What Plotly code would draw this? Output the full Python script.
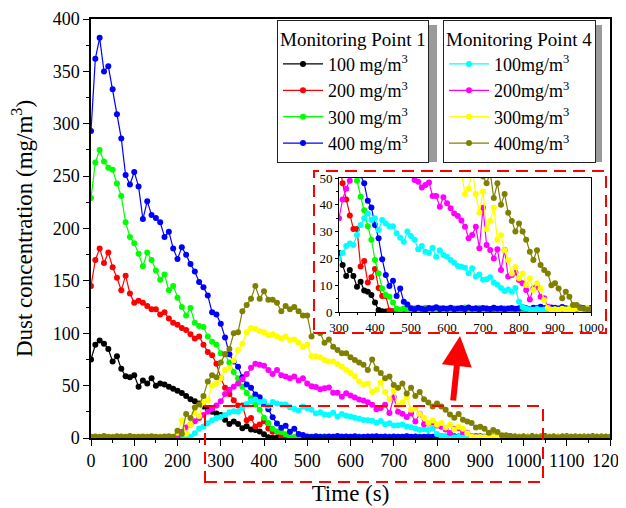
import plotly.graph_objects as go

time_s = list(range(0, 1210, 10))

# Monitoring Point 1
p1_100 = [75, 89, 93, 90, 85, 73, 78, 66, 59, 58,
          60, 49, 55, 52, 57, 50, 52, 51, 49, 47,
          45, 43, 40, 37, 35, 33, 30, 27, 25, 23.5,
          22, 17.5, 13.4, 15.7, 13.4, 9.4, 11.3, 8, 7.6, 6.3,
          3.5, 0.7, 0.3, 0.2, 0.4, 0.2, 0.3, 0.2, 0.3, 0.4,
          0.2, 0.3, 0.3, 0.2, 0.4, 0.3, 0.2, 0.3, 0.2, 0.3,
          0.3, 0.2, 0.4, 0.3, 0.2, 0.3, 0.3, 0.2, 0.3, 0.2,
          0.2, 0.3, 0.2, 0.4, 0.3, 0.2, 0.3, 0.2, 0.3, 0.3,
          0.3, 0.2, 0.3, 0.2, 0.3, 0.4, 0.2, 0.3, 0.2, 0.3,
          0.2, 0.3, 0.3, 0.2, 0.3, 0.2, 0.4, 0.3, 0.2, 0.3,
          0.3, 0.2, 0.3, 0.3, 0.2, 0.3, 0.2, 0.3, 0.4, 0.2,
          0.2, 0.3, 0.2, 0.3, 0.3, 0.2, 0.3, 0.2, 0.3, 0.3,
          0.2]
p1_200 = [145, 170, 181, 167, 177, 163, 153, 141, 155, 138,
          129, 131, 129, 126, 123, 123, 118, 120, 114, 110,
          108, 105, 103, 99, 95, 97, 89, 82, 79, 71,
          57, 48, 42, 36, 31, 31, 17, 19, 11, 13,
          16, 9, 6, 6, 0.6, 0.3, 0.4, 0.3, 0.5, 0.3,
          0.4, 0.3, 0.5, 0.4, 0.3, 0.4, 0.5, 0.3, 0.4, 0.3,
          0.5, 0.4, 0.3, 0.4, 0.3, 0.5, 0.4, 0.3, 0.4, 0.5,
          0.3, 0.4, 0.5, 0.3, 0.4, 0.3, 0.4, 0.5, 0.3, 0.4,
          0.4, 0.3, 0.4, 0.5, 0.3, 0.4, 0.3, 0.4, 0.5, 0.3,
          0.3, 0.4, 0.3, 0.5, 0.4, 0.3, 0.4, 0.3, 0.4, 0.5,
          0.4, 0.3, 0.5, 0.4, 0.3, 0.4, 0.3, 0.5, 0.4, 0.3,
          0.3, 0.4, 0.3, 0.4, 0.5, 0.3, 0.4, 0.3, 0.4, 0.3,
          0.4]
p1_300 = [229, 263, 275, 264, 258, 256, 243, 231, 206, 192,
          186, 176, 164, 177, 170, 160, 151, 156, 141, 145,
          134, 125, 117, 124, 110, 107, 106, 97, 92, 89,
          81, 80, 72, 63, 57, 49, 43, 38, 32, 27,
          19.4, 14.4, 8.8, 6.3, 5.7, 3.5, 1.2, 0.8, 1.3, 0.9,
          1.1, 1.4, 0.8, 1.2, 1.6, 1.0, 1.3, 0.9, 1.5, 1.1,
          1.2, 0.9, 1.4, 1.0, 1.3, 1.7, 1.1, 0.9, 1.2, 1.5,
          1.0, 1.3, 1.1, 1.6, 0.9, 1.2, 1.4, 1.0, 1.3, 1.1,
          1.2, 1.0, 1.5, 1.1, 0.9, 1.3, 1.2, 1.0, 1.4, 1.1,
          0.9, 1.2, 1.0, 1.3, 1.1, 0.8, 1.2, 1.0, 1.3, 0.9,
          1.1, 1.3, 0.9, 1.2, 1.0, 1.4, 1.1, 0.9, 1.2, 1.0,
          1.3, 1.0, 1.2, 0.9, 1.1, 1.3, 1.0, 1.2, 0.9, 1.1,
          1.0]
p1_400 = [293, 362, 382, 350, 355, 333, 309, 286, 251, 242,
          254, 240, 209, 226, 213, 210, 206, 192, 197, 181,
          171, 182, 175, 166, 159, 149, 144, 136, 120, 118,
          109, 96, 80, 73, 68, 58, 51, 48, 41.5, 39,
          32.5, 27.5, 19.7, 13.8, 9.7, 11.7, 6, 8.8, 3.8, 2.8,
          1.4, 1.0, 1.6, 1.2, 0.9, 1.5, 1.3, 1.8, 1.1, 1.4,
          1.2, 1.6, 1.0, 1.3, 1.5, 1.1, 1.7, 1.2, 1.4, 1.0,
          1.5, 1.3, 1.1, 1.6, 1.2, 1.4, 1.0, 1.3, 1.5, 1.2,
          1.4, 1.8, 1.3, 1.1, 1.6, 1.4, 2.0, 1.5, 1.3, 1.7,
          1.6, 1.3, 1.9, 1.4, 1.2, 1.5, 1.3, 1.7, 1.4, 1.2,
          1.5, 1.3, 1.6, 1.2, 1.4, 1.7, 1.3, 1.5, 1.2, 1.4,
          1.6, 1.3, 1.5, 1.2, 1.4, 1.3, 1.6, 1.2, 1.4, 1.3,
          1.2]

# Monitoring Point 4
p4_100 = [0.4, 0.6, 0.5, 0.7, 0.4, 0.5, 0.6, 0.4, 0.5, 0.6,
          0.5, 0.4, 0.6, 0.5, 0.7, 0.5, 0.4, 0.6, 0.5, 0.4,
          0.5, 0.6, 1.0, 1.3, 4.5, 9, 11, 14, 17, 19,
          20, 22, 24.6, 25.6, 25, 28.7, 32.5, 35, 36.8, 34.3,
          35, 30.6, 34.3, 33, 32, 32, 29.4, 27.7, 26.2, 30,
          28.4, 27, 23.4, 24.6, 22.5, 22, 24, 20.6, 23, 21.3,
          20.6, 19.4, 18.4, 17.2, 16.9, 16.5, 14.5, 16.3, 13.2, 14,
          12, 12.2, 13, 11, 10.2, 9, 7.8, 8.4, 7.6, 9,
          3.8, 1.9, 1.2, 1.0, 0.8, 1.1, 0.7, 0.9, 1.0, 0.8,
          0.9, 0.7, 1.0, 0.8, 1.1, 0.9, 0.7, 1.0, 0.8, 0.9,
          0.8, 1.0, 0.7, 0.9, 1.1, 0.8, 0.9, 0.7, 1.0, 0.8,
          0.9, 0.8, 1.0, 0.7, 0.9, 0.8, 1.0, 0.9, 0.7, 0.8,
          0.9]
p4_200 = [0.5, 0.4, 0.6, 0.5, 0.4, 0.6, 0.5, 0.4, 0.5, 0.6,
          0.4, 0.5, 0.6, 0.4, 0.5, 0.5, 0.6, 0.4, 0.5, 0.4,
          0.8, 6, 10, 13, 16, 19, 22, 25, 28, 31,
          35, 42, 46, 49, 52, 56, 61, 67, 71, 70,
          69, 65, 61, 65, 60, 58.6, 57, 58.6, 55, 57,
          52, 49.3, 48.6, 46.5, 47.4, 48.3, 43.3, 43.3, 39.3, 42.8,
          40.6, 38.7, 36.8, 35.8, 34.1, 31.8, 27.5, 28.7, 31.8, 23.8,
          38.9, 25, 23.1, 20, 23.4, 15.7, 23.1, 13.2, 13.8, 14.7,
          11.9, 10.7, 8.2, 4.7, 8.8, 9.4, 5.7, 5.1, 2, 0.8,
          0.6, 0.5, 0.7, 0.5, 0.6, 0.4, 0.6, 0.5, 0.7, 0.5,
          0.6, 0.5, 0.4, 0.6, 0.5, 0.7, 0.5, 0.6, 0.4, 0.5,
          0.6, 0.5, 0.7, 0.5, 0.4, 0.6, 0.5, 0.6, 0.5, 0.4,
          0.5]
p4_300 = [1.0, 1.3, 0.9, 1.2, 1.0, 1.4, 1.1, 0.9, 1.2, 1.5,
          1.0, 1.2, 0.9, 1.3, 1.1, 1.0, 1.4, 1.2, 0.9, 1.1,
          5, 17, 4, 13, 24, 21, 34, 36, 50, 52,
          57, 65, 67, 74, 84, 90, 101, 105, 104, 102,
          101, 98, 99, 97, 95, 97, 93.6, 94, 91, 87,
          89, 78, 78, 77, 74.5, 73, 73, 70.7, 68, 65,
          62, 59, 54, 51, 52, 44, 46, 53, 44, 37,
          45, 31, 34, 39, 27, 28.6, 23, 19.4, 14.4, 16.8,
          12.6, 14.4, 10.1, 12.6, 8.2, 10.7, 8.8, 4.5, 1.5, 0.8,
          1.0, 0.8, 1.2, 0.9, 1.1, 0.8, 1.3, 1.0, 0.9, 1.2,
          1.0, 1.1, 0.8, 1.2, 1.0, 0.9, 1.3, 1.0, 1.1, 0.9,
          1.2, 1.0, 0.8, 1.1, 1.2, 0.9, 1.0, 1.3, 1.0, 1.1,
          1.0]
p4_400 = [1.2, 1.5, 1.1, 1.8, 1.3, 1.0, 1.6, 1.4, 1.2, 1.9,
          1.3, 1.1, 1.5, 1.2, 1.7, 1.3, 1.0, 1.4, 1.6, 1.2,
          7, 4, 23, 19, 29, 32, 40, 54, 60, 58,
          72, 80, 85, 100, 101, 121, 127, 133, 145, 133,
          140, 132, 132, 129, 121, 126, 123, 125, 121, 117,
          117, 97, 105, 100, 91, 94, 87, 84, 81, 81,
          77, 74.5, 72, 70, 65, 75, 66, 62, 57, 58.6,
          50.6, 48, 52, 42.5, 48, 40, 44, 37, 34, 30,
          33, 30, 27, 22.5, 19.4, 23, 17.5, 15.7, 14.4, 10,
          10.7, 8.8, 5.1, 7.6, 5.7, 2.6, 2.6, 1.5, 1.2, 0.9,
          1.1, 0.8, 1.2, 1.0, 0.9, 1.3, 1.0, 1.1, 0.8, 1.2,
          1.0, 1.1, 0.9, 1.3, 1.0, 1.2, 0.9, 1.1, 1.0, 1.2,
          1.0]

names_p1 = ["100 mg/m<sup>3</sup>", "200 mg/m<sup>3</sup>",
            "300 mg/m<sup>3</sup>", "400 mg/m<sup>3</sup>"]
names_p4 = ["100mg/m<sup>3</sup>", "200mg/m<sup>3</sup>",
            "300mg/m<sup>3</sup>", "400mg/m<sup>3</sup>"]
colors_p1 = ["#000000", "#FF0000", "#00FF00", "#0000FF"]
colors_p4 = ["#00FFFF", "#FF00FF", "#FFFF00", "#808000"]
data_p1 = [p1_100, p1_200, p1_300, p1_400]
data_p4 = [p4_100, p4_200, p4_300, p4_400]

FONT = "Liberation Serif"
fig = go.Figure()

groups = [(names_p1, colors_p1, data_p1, "legend"),
          (names_p4, colors_p4, data_p4, "legend2")]

# main plot traces
for names, cols, datas, lg in groups:
    for nm, c, d in zip(names, cols, datas):
        fig.add_trace(go.Scatter(
            x=time_s, y=d, mode="lines+markers", name=nm, legend=lg,
            line=dict(color=c, width=1.2),
            marker=dict(size=6, color=c),
            xaxis="x", yaxis="y"))

# white background panel for the inset
fig.add_trace(go.Scatter(x=[], y=[], xaxis="x2", yaxis="y2",
                         showlegend=False, hoverinfo="skip"))

# inset traces
for names, cols, datas, lg in groups:
    for nm, c, d in zip(names, cols, datas):
        fig.add_trace(go.Scatter(
            x=time_s, y=d, mode="lines+markers", name=nm, showlegend=False,
            line=dict(color=c, width=1.2),
            marker=dict(size=6, color=c),
            xaxis="x3", yaxis="y3"))

# the page has an 8px body margin: work in window pixels, shift by OFF
OFF = 8
W, H = 626 - OFF, 508 - OFF
L, R, T, B = 91, 610, 19, 438          # plot area in window pixels
def px(x):
    return (x - L) / (R - L)
def py(y):
    return (B - y) / (B - T)

axis_common = dict(showline=True, linecolor="black", mirror=True,
                   showgrid=False, zeroline=False, ticks="outside",
                   tickcolor="black", automargin=False)

fig.update_layout(
    width=W, height=H,
    margin=dict(l=L - OFF, r=W - (R - OFF), t=T - OFF, b=H - (B - OFF),
                autoexpand=False),
    paper_bgcolor="white", plot_bgcolor="white",
    font=dict(family=FONT, color="black"),
    xaxis=dict(domain=[0, 1], range=[0, 1200], tick0=0, dtick=100,
               ticklen=6, tickwidth=1.2, linewidth=1.5,
               ticklabeloverflow="allow",
               tickfont=dict(size=18, family=FONT),
               minor=dict(dtick=50, ticks="outside", ticklen=3,
                          tickcolor="black", tickwidth=1),
               title=dict(text="Time (s)", font=dict(size=23, family=FONT)),
               **axis_common),
    yaxis=dict(domain=[0, 1], range=[0, 400], tick0=0, dtick=50,
               ticklen=6, tickwidth=1.2, linewidth=1.5,
               ticklabeloverflow="allow",
               tickfont=dict(size=18, family=FONT),
               minor=dict(dtick=25, ticks="outside", ticklen=3,
                          tickcolor="black", tickwidth=1),
               title=dict(text="Dust concentration (mg/m<sup>3</sup>)",
                          font=dict(size=23, family=FONT)),
               **axis_common),
    xaxis2=dict(domain=[px(314), px(606)], anchor="y2", range=[0, 1],
                visible=False, fixedrange=True),
    yaxis2=dict(domain=[py(333), py(171)], anchor="x2", range=[0, 1],
                visible=False, fixedrange=True),
    xaxis3=dict(domain=[px(339), px(591)], anchor="y3", range=[300, 1000],
                tick0=0, dtick=100, ticklen=3, linewidth=1,
                ticklabeloverflow="allow",
                tickfont=dict(size=13, family=FONT),
                minor=dict(dtick=50, ticks="outside", ticklen=2,
                           tickcolor="black"),
                **axis_common),
    yaxis3=dict(domain=[py(312), py(178)], anchor="x3", range=[0, 50],
                tick0=0, dtick=10, ticklen=3, linewidth=1,
                ticklabeloverflow="allow",
                tickfont=dict(size=13, family=FONT),
                minor=dict(dtick=5, ticks="outside", ticklen=2,
                           tickcolor="black"),
                **axis_common),
    legend=dict(x=px(277), y=py(20), xanchor="left", yanchor="top",
                bgcolor="white", bordercolor="#222", borderwidth=1,
                font=dict(size=18, family=FONT), itemwidth=40,
                title=dict(text="Monitoring Point 1",
                           font=dict(size=19, family=FONT))),
    legend2=dict(x=px(443), y=py(20), xanchor="left", yanchor="top",
                 bgcolor="white", bordercolor="#222", borderwidth=1,
                 font=dict(size=18, family=FONT), itemwidth=40,
                 title=dict(text="Monitoring Point 4",
                            font=dict(size=19, family=FONT))),
    showlegend=True,
)

shapes = []
# legend shadows
for (x0, x1, y0, y1) in [(281, 437, 25, 162), (447, 602, 25, 162)]:
    shapes.append(dict(type="rect", xref="paper", yref="paper",
                       x0=px(x0), x1=px(x1), y0=py(y1), y1=py(y0),
                       fillcolor="#9a9a9a", line=dict(width=0), layer="above"))
# dashed boxes
for (x0, x1, y0, y1) in [(314, 606, 171, 333), (205, 543, 406, 482)]:
    shapes.append(dict(type="rect", xref="paper", yref="paper",
                       x0=px(x0), x1=px(x1), y0=py(y1), y1=py(y0),
                       line=dict(color="#FF0000", width=2, dash="12px,7px"),
                       fillcolor="rgba(0,0,0,0)", layer="above"))
fig.update_layout(shapes=shapes)

fig.add_annotation(x=px(460), y=py(336), xref="paper", yref="paper",
                   ax=-7, ay=66, axref="pixel", ayref="pixel",
                   showarrow=True, arrowhead=2, arrowsize=1, arrowwidth=6,
                   arrowcolor="#FF0000", text="", standoff=0)

fig.write_html("out.html")
